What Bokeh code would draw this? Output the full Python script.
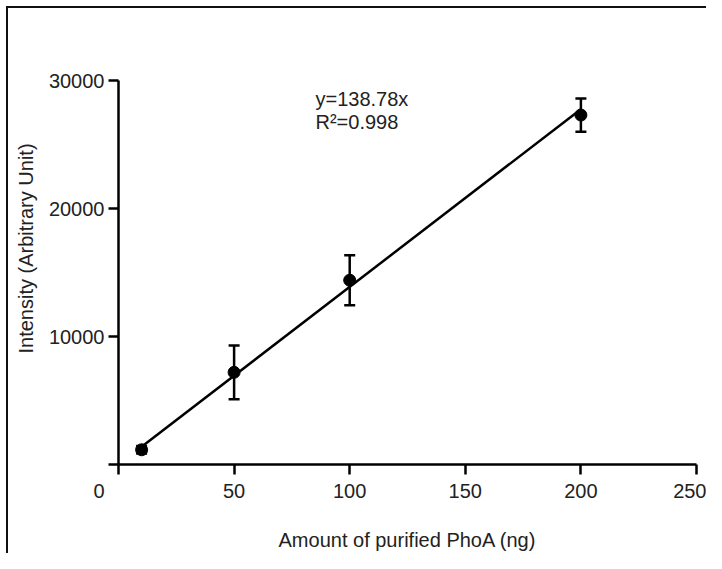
from bokeh.plotting import figure
from bokeh.models import Range1d, FixedTicker, Whisker, TeeHead, ColumnDataSource, Title
from bokeh.embed import file_html
from bokeh.resources import INLINE
from bokeh.core.properties import value

# ---- data ----
amount_ng = [10, 50, 100, 200]
intensity = [1150, 7200, 14400, 27300]
intensity_err = [300, 2100, 1950, 1300]
slope = 138.78
r_squared = 0.998
x_ticks = [0, 50, 100, 150, 200, 250]
y_ticks = [0, 10000, 20000, 30000]

FONT = "Liberation Sans"
FS = "20px"
TXT = "#222222"
NB = "\u00a0"

src = ColumnDataSource(dict(
    x=amount_ng,
    y=intensity,
    lower=[v - e for v, e in zip(intensity, intensity_err)],
    upper=[v + e for v, e in zip(intensity, intensity_err)],
))

p = figure(width=706, height=553, output_backend="svg", toolbar_location=None,
           x_range=Range1d(0, 250), y_range=Range1d(0, 30000),
           min_border_left=118, min_border_right=10, min_border_top=80, min_border_bottom=89)
p.styles = {
    "background-color": "white",
    "background-image": "linear-gradient(#111, #111), linear-gradient(#111, #111)",
    "background-size": "100% 2px, 2px 100%",
    "background-position": "6px 6px, 6px 6px",
    "background-repeat": "no-repeat",
}
p.background_fill_color = None
p.border_fill_color = None
p.outline_line_color = None
p.grid.visible = False

for ax in (p.xaxis[0], p.yaxis[0]):
    ax.axis_line_width = 2.5
    ax.axis_line_color = "black"
    ax.major_tick_line_width = 2.5
    ax.major_tick_line_color = "black"
    ax.major_tick_out = 10
    ax.major_tick_in = 0
    ax.minor_tick_line_color = None
    ax.major_label_text_font = FONT
    ax.major_label_text_font_size = FS
    ax.major_label_text_color = TXT

p.xaxis.ticker = FixedTicker(ticks=x_ticks)
# Prism-style origin label, set off to the left of the origin
p.xaxis.major_label_overrides = {0: "0" + NB * 7}
p.xaxis.major_label_standoff = 5
p.xaxis.axis_label = "Amount of purified PhoA (ng)"
p.xaxis.axis_label_text_font = FONT
p.xaxis.axis_label_text_font_size = FS
p.xaxis.axis_label_text_font_style = "normal"
p.xaxis.axis_label_text_color = TXT
p.xaxis.axis_label_standoff = 24

p.yaxis.ticker = FixedTicker(ticks=y_ticks)
p.yaxis.major_label_overrides = {0: ""}
p.yaxis.major_label_standoff = 4

ytitle = Title(text="Intensity (Arbitrary Unit)", align="left", offset=111,
               text_font=FONT, text_font_size=FS, text_font_style="normal",
               text_color=TXT, standoff=18)
p.add_layout(ytitle, "left")

# regression line
fit_x = [min(amount_ng), max(amount_ng)]
fit_y = [slope * v for v in fit_x]
p.line(fit_x, fit_y, line_color="black", line_width=2.5)

# error bars
p.add_layout(Whisker(source=src, base="x", lower="lower", upper="upper",
                     line_color="black", line_width=2.5,
                     upper_head=TeeHead(size=11, line_color="black", line_width=2.5),
                     lower_head=TeeHead(size=11, line_color="black", line_width=2.5)))
p.scatter("x", "y", source=src, size=12, color="black")

# equation text
p.text(x=[85.2, 85.2], y=[28520, 26720],
       text=[f"y={slope}x", f"R\u00b2={r_squared}"],
       text_font=value(FONT), text_font_size=FS, text_color=TXT,
       text_baseline="alphabetic", text_align="left")

open("out.html", "w").write(file_html(p, INLINE))
